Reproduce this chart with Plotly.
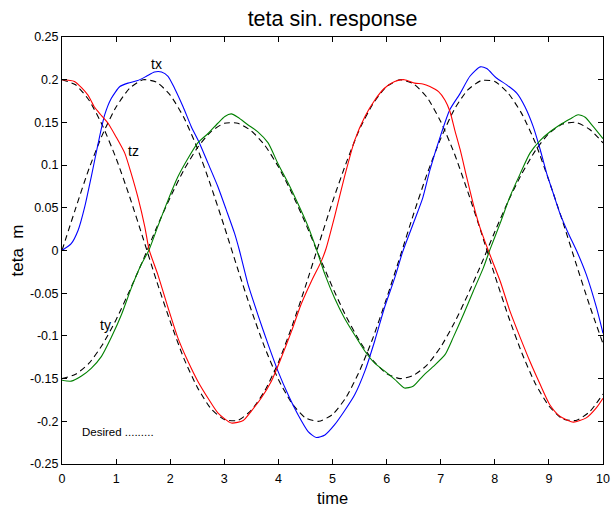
import plotly.graph_objects as go

# Measured responses (time stamps, value)
tx_t = [0, 0.17, 0.30, 0.42, 0.54, 0.67, 0.79, 0.91, 1.07, 1.22, 1.40, 1.56, 1.71, 1.84, 1.96,
        2.08, 2.24, 2.39, 2.54, 2.70, 2.88, 3.04, 3.19, 3.28, 3.44, 3.62, 3.81, 3.99, 4.18, 4.36,
        4.55, 4.70, 4.86, 5.04, 5.22, 5.41, 5.60, 5.78, 5.96, 6.15, 6.30, 6.52, 6.67, 6.80, 6.99,
        7.17, 7.36, 7.54, 7.73, 7.85, 8.03, 8.22, 8.41, 8.56, 8.71, 8.84, 8.96, 9.08, 9.20, 9.36,
        9.51, 9.69, 9.88, 10]
tx_v = [0, 0.008, 0.024, 0.051, 0.086, 0.126, 0.159, 0.178, 0.192, 0.196, 0.199, 0.204, 0.209,
        0.209, 0.204, 0.190, 0.168, 0.145, 0.126, 0.102, 0.075, 0.047, 0.020, 0.000, -0.040,
        -0.075, -0.110, -0.141, -0.169, -0.192, -0.212, -0.219, -0.216, -0.204, -0.188, -0.169,
        -0.141, -0.106, -0.067, -0.032, -0.001, 0.036, 0.062, 0.094, 0.133, 0.165, 0.184, 0.204,
        0.215, 0.213, 0.202, 0.194, 0.184, 0.168, 0.145, 0.118, 0.090, 0.067, 0.044, 0.020,
        0.000, -0.028, -0.067, -0.097]

tz_t = [0, 0.23, 0.48, 0.60, 0.73, 0.85, 1.00, 1.16, 1.28, 1.40, 1.53, 1.61, 1.77, 1.96, 2.14,
        2.33, 2.51, 2.70, 2.88, 3.13, 3.35, 3.50, 3.68, 3.87, 4.05, 4.24, 4.42, 4.61, 4.79, 4.88,
        5.04, 5.22, 5.41, 5.60, 5.78, 5.96, 6.15, 6.33, 6.52, 6.67, 6.80, 6.96, 7.08, 7.17, 7.26,
        7.36, 7.48, 7.60, 7.72, 7.88, 8.10, 8.28, 8.47, 8.65, 8.84, 9.02, 9.20, 9.45, 9.69, 9.88,
        10]
tz_v = [0.200, 0.198, 0.182, 0.168, 0.158, 0.149, 0.133, 0.114, 0.090, 0.063, 0.028, 0.001,
        -0.028, -0.067, -0.102, -0.130, -0.153, -0.173, -0.190, -0.202, -0.199, -0.188, -0.173,
        -0.153, -0.126, -0.095, -0.063, -0.036, -0.013, 0.002, 0.040, 0.086, 0.129, 0.157,
        0.176, 0.190, 0.198, 0.200, 0.196, 0.195, 0.192, 0.186, 0.176, 0.163, 0.141, 0.118,
        0.086, 0.055, 0.028, 0.000, -0.036, -0.071, -0.102, -0.130, -0.157, -0.181, -0.194,
        -0.201, -0.196, -0.184, -0.173]

ty_t = [0, 0.17, 0.36, 0.54, 0.73, 0.91, 1.10, 1.28, 1.46, 1.61, 1.77, 1.96, 2.14, 2.33, 2.51,
        2.70, 2.88, 3.01, 3.13, 3.25, 3.44, 3.62, 3.81, 3.99, 4.18, 4.36, 4.55, 4.70, 4.86, 5.04,
        5.22, 5.41, 5.60, 5.78, 5.96, 6.15, 6.33, 6.49, 6.67, 6.86, 7.08, 7.23, 7.42, 7.60, 7.79,
        7.91, 8.10, 8.28, 8.47, 8.65, 8.84, 9.02, 9.20, 9.39, 9.54, 9.67, 9.82, 10]
ty_v = [-0.152, -0.153, -0.147, -0.138, -0.124, -0.102, -0.075, -0.044, -0.017, 0.001, 0.028,
        0.059, 0.086, 0.108, 0.126, 0.137, 0.149, 0.157, 0.160, 0.156, 0.147, 0.139, 0.126,
        0.102, 0.079, 0.055, 0.028, 0.002, -0.028, -0.056, -0.079, -0.099, -0.118, -0.132,
        -0.141, -0.151, -0.161, -0.159, -0.147, -0.136, -0.122, -0.102, -0.075, -0.048, -0.020,
        0.001, 0.032, 0.063, 0.090, 0.114, 0.129, 0.139, 0.147, 0.154, 0.159, 0.156, 0.145,
        0.131]

# Desired references, sampled every 0.25 s
des_t = [i * 0.25 for i in range(41)]
des_tx = [0, 0.049, 0.096, 0.136, 0.168, 0.190, 0.200, 0.197, 0.182, 0.156, 0.120, 0.076, 0.028,
          -0.022, -0.070, -0.114, -0.151, -0.179, -0.196, -0.200, -0.192, -0.172, -0.141, -0.102,
          -0.056, -0.007, 0.043, 0.090, 0.131, 0.165, 0.188, 0.199, 0.198, 0.184, 0.160, 0.126,
          0.082, 0.035, -0.015, -0.064, -0.109]
des_tz = [0.200, 0.194, 0.176, 0.146, 0.108, 0.063, 0.014, -0.036, -0.083, -0.126, -0.160,
          -0.185, -0.198, -0.199, -0.187, -0.164, -0.131, -0.089, -0.042, 0.008, 0.057, 0.102,
          0.142, 0.172, 0.192, 0.200, 0.195, 0.179, 0.151, 0.114, 0.069, 0.021, -0.029, -0.077,
          -0.120, -0.156, -0.182, -0.197, -0.199, -0.189, -0.168]
des_ty = [-0.150, -0.145, -0.132, -0.110, -0.081, -0.047, -0.011, 0.027, 0.062, 0.094, 0.120,
          0.139, 0.149, 0.149, 0.140, 0.123, 0.098, 0.067, 0.032, -0.006, -0.043, -0.077, -0.106,
          -0.129, -0.144, -0.150, -0.146, -0.134, -0.113, -0.085, -0.052, -0.016, 0.022, 0.058,
          0.090, 0.117, 0.137, 0.148, 0.150, 0.142, 0.126]

x_ticks = list(range(11))
y_ticks = [-0.25, -0.2, -0.15, -0.1, -0.05, 0, 0.05, 0.1, 0.15, 0.2, 0.25]
y_tick_text = ["-0.25", "-0.2", "-0.15", "-0.1", "-0.05", "0", "0.05", "0.1", "0.15", "0.2", "0.25"]

FONT = "Liberation Sans, Arial, sans-serif"

fig = go.Figure()

for yv in (des_tx, des_tz, des_ty):
    fig.add_trace(go.Scatter(x=des_t, y=yv, mode="lines",
                             line=dict(color="black", width=1.1, dash="6px,4px",
                                       shape="spline", smoothing=0.6),
                             showlegend=False, hoverinfo="skip"))

for tt, vv, col in ((tx_t, tx_v, "#0000ff"), (tz_t, tz_v, "#ff0000"), (ty_t, ty_v, "#008000")):
    fig.add_trace(go.Scatter(x=tt, y=vv, mode="lines",
                             line=dict(color=col, width=1.1, shape="spline", smoothing=0.6),
                             showlegend=False))

labels = [("tx", 1.75, 0.218, 14), ("tz", 1.32, 0.117, 14), ("ty", 0.795, -0.087, 14)]
for txt, x, y, sz in labels:
    fig.add_annotation(x=x, y=y, text=txt, showarrow=False,
                       font=dict(family=FONT, size=sz, color="black"))

fig.add_annotation(x=0.33, y=-0.2125, text="Desired .........", showarrow=False,
                   xanchor="left", font=dict(family=FONT, size=11.5, color="black"))

axis_common = dict(showline=True, linecolor="black", linewidth=1, mirror="allticks",
                   ticks="inside", ticklen=5, tickcolor="black", showgrid=False,
                   zeroline=False, automargin=False,
                   tickfont=dict(family=FONT, size=12.5, color="black"))

fig.update_xaxes(range=[0, 10], tickvals=x_ticks, ticktext=[str(v) for v in x_ticks],
                 ticklabelstandoff=3,
                 title=dict(text="time", font=dict(family=FONT, size=16.5, color="black"),
                            standoff=11),
                 **axis_common)
fig.update_yaxes(range=[-0.25, 0.25], tickvals=y_ticks, ticktext=y_tick_text,
                 title=dict(text="teta  m", font=dict(family=FONT, size=17, color="black"),
                            standoff=2),
                 **axis_common)

fig.update_layout(
    width=614, height=507,
    margin=dict(l=62, r=11, t=37, b=43),
    paper_bgcolor="white", plot_bgcolor="white",
    title=dict(text="teta sin. response", x=0.5, xref="paper", y=1 - 18 / 507,
               yref="container", yanchor="middle", xanchor="center",
               font=dict(family=FONT, size=21.5, color="black")),
)

fig.write_html("out.html")
